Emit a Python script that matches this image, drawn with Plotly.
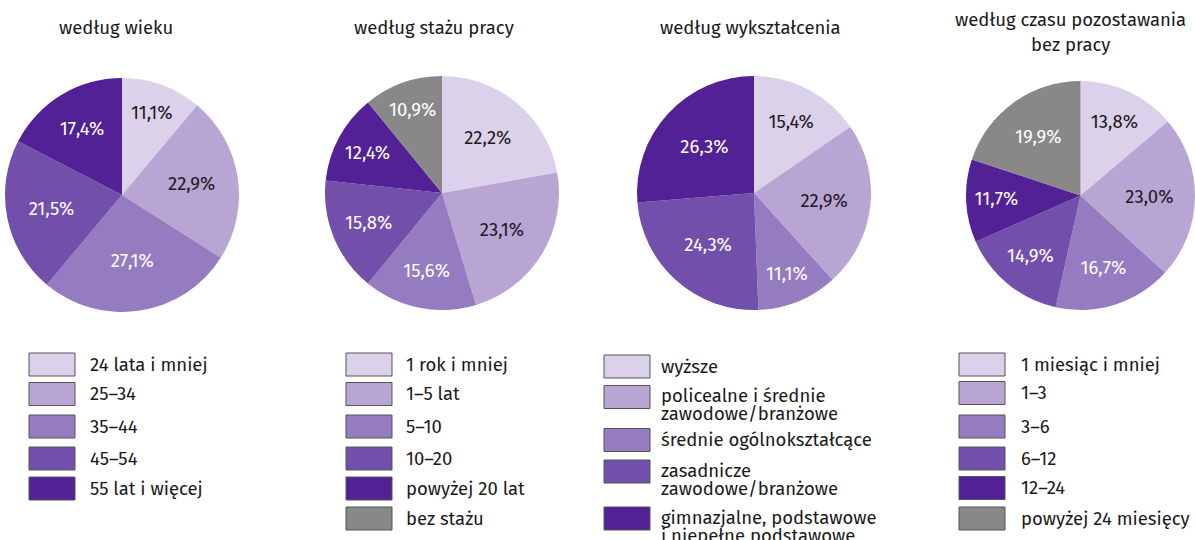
import plotly.graph_objects as go

W, H = 1195, 540

# ---------------- data ----------------
titles = ["według wieku", "według stażu pracy", "według wykształcenia",
          "według czasu pozostawania\nbez pracy"]

age_labels = ["24 lata i mniej", "25–34", "35–44", "45–54", "55 lat i więcej"]
age_values = [11.1, 22.9, 27.1, 21.5, 17.4]

tenure_labels = ["1 rok i mniej", "1–5 lat", "5–10", "10–20", "powyżej 20 lat", "bez stażu"]
tenure_values = [22.2, 23.1, 15.6, 15.8, 12.4, 10.9]

edu_labels = ["wyższe", "policealne i średnie\nzawodowe/branżowe", "średnie ogólnokształcące",
              "zasadnicze\nzawodowe/branżowe", "gimnazjalne, podstawowe\ni niepełne podstawowe"]
edu_values = [15.4, 22.9, 11.1, 24.3, 26.3]

dur_labels = ["1 miesiąc i mniej", "1–3", "3–6", "6–12", "12–24", "powyżej 24 miesięcy"]
dur_values = [13.8, 23.0, 16.7, 14.9, 11.7, 19.9]

# ---------------- styles / layout ----------------
purples = ["#DCD1EA", "#B8A5D4", "#957BBF", "#734FAC", "#512195"]
grey = "#888888"
FONT = "Fira Sans, Open Sans, Noto Sans, sans-serif"
TXT = "#1a1a1a"
FS = 18.5

panels = [
    dict(labels=age_labels, values=age_values, colors=purples,
         cx=122, cy=195, r=117, title_x=116, title_y=[28],
         box_x=29, text_x=88, rows=[364.5, 394, 426.5, 458.5, 488.5]),
    dict(labels=tenure_labels, values=tenure_values, colors=purples + [grey],
         cx=442, cy=193, r=117, title_x=434, title_y=[28],
         box_x=346, text_x=404, rows=[364.5, 394, 426.5, 458.5, 488.5, 518.5]),
    dict(labels=edu_labels, values=edu_values, colors=purples,
         cx=754, cy=193, r=117, title_x=750, title_y=[28],
         box_x=604, text_x=659, rows=[366.5, 397, 440, 471.5, 518.5]),
    dict(labels=dur_labels, values=dur_values, colors=purples + [grey],
         cx=1083, cy=195.5, r=117, title_x=1070, title_y=[20, 45],
         box_x=959, text_x=1019, rows=[364.5, 393, 426.5, 458.5, 488, 518.5]),
]

fig = go.Figure()
shapes, annotations = [], []

for i, p in enumerate(panels):
    x0 = max(p["cx"] - p["r"], 0)
    x1 = min(p["cx"] + p["r"], W)
    half = (x1 - x0) / 2
    y0, y1 = p["cy"] - half, p["cy"] + half
    text = [f"{v:.1f}%".replace(".", ",") for v in p["values"]]
    tcolors = [TXT if j < 2 else "white" for j in range(len(p["values"]))]
    fig.add_trace(go.Pie(
        values=p["values"], labels=[l.replace("\n", " ") for l in p["labels"]],
        text=text, textinfo="text", textposition="inside",
        insidetextorientation="horizontal",
        insidetextfont=dict(family=FONT, size=FS, color=tcolors),
        marker=dict(colors=p["colors"], line=dict(width=0)),
        sort=False, direction="clockwise", rotation=0,
        domain=dict(x=[x0 / W, x1 / W], y=[1 - y1 / H, 1 - y0 / H]),
        showlegend=False, hoverinfo="label+text",
    ))
    # title
    for line, ty in zip(titles[i].split("\n"), p["title_y"]):
        annotations.append(dict(x=p["title_x"], y=ty, xref="x", yref="y", text=line,
                                showarrow=False, xanchor="center", yanchor="middle",
                                font=dict(family=FONT, size=FS, color=TXT)))
    # legend
    for lab, col, yc in zip(p["labels"], p["colors"], p["rows"]):
        shapes.append(dict(type="rect", xref="x", yref="y",
                           x0=p["box_x"], x1=p["box_x"] + 46, y0=yc - 11.5, y1=yc + 11.5,
                           fillcolor=col, line=dict(color="#555555", width=1)))
        for k, line in enumerate(lab.split("\n")):
            annotations.append(dict(x=p["text_x"], y=yc + k * 18 - (1 if "\n" in lab else 0),
                                    xref="x", yref="y", text=line, showarrow=False,
                                    xanchor="left", yanchor="middle",
                                    font=dict(family=FONT, size=FS, color=TXT)))

fig.update_layout(
    width=W, height=H, margin=dict(l=0, r=0, t=0, b=0),
    paper_bgcolor="white", plot_bgcolor="white",
    xaxis=dict(range=[0, W], visible=False, fixedrange=True, domain=[0, 1]),
    yaxis=dict(range=[H, 0], visible=False, fixedrange=True, domain=[0, 1]),
    shapes=shapes, annotations=annotations, showlegend=False,
)

fig.write_html("out.html", config={"displayModeBar": False},
               post_script="document.body.style.margin='0';document.body.style.overflow='hidden';")
